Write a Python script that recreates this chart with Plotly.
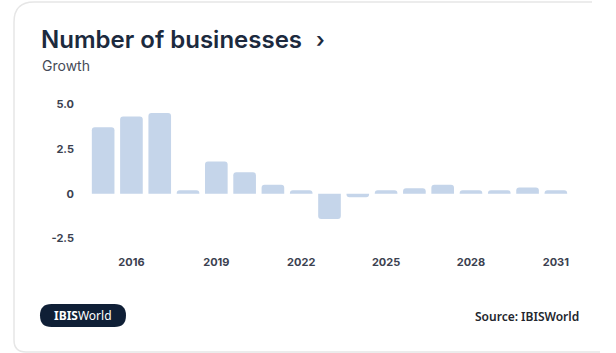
import plotly.graph_objects as go

# ---- data ----
years = list(range(2015, 2032))
growth = [3.7, 4.3, 4.5, 0.2, 1.8, 1.2, 0.5, 0.2, -1.4, -0.2, 0.2, 0.3, 0.5, 0.2, 0.2, 0.35, 0.2]
tick_years = [2016, 2019, 2022, 2025, 2028, 2031]
y_tick_vals = [-2.5, 0, 2.5, 5.0]
y_tick_text = ["-2.5", "0", "2.5", "5.0"]
title_text = "Number of businesses"
subtitle_text = "Growth"
source_text = "Source: IBISWorld"

# ---- layout geometry (pixels) ----
W, H = 616, 353
L, R, T, B = 89, 46, 95, 100
PW, PH = W - L - R, H - T - B


def px(x):
    return (x - L) / PW


def py(y):
    return (H - B - y) / PH


fig = go.Figure()
fig.add_trace(go.Bar(
    x=years, y=growth,
    marker=dict(color="#c5d5ea", cornerradius=3, line=dict(width=0)),
    width=0.8,
    hoverinfo="x+y",
))

tick_font = dict(family="Inter, Lato, sans-serif", size=11, color="#3b4150", weight=700)

fig.update_layout(
    width=W, height=H,
    margin=dict(l=L, r=R, t=T, b=B),
    paper_bgcolor="white", plot_bgcolor="white",
    showlegend=False,
    bargap=0.2,
    xaxis=dict(
        range=[2014.5, 2031.5],
        tickmode="array", tickvals=tick_years, ticktext=[str(y) for y in tick_years],
        showgrid=False, zeroline=False, showline=False, ticks="",
        tickfont=tick_font, ticklabelstandoff=1,
        fixedrange=True,
    ),
    yaxis=dict(
        range=[-3.3, 5.5],
        tickmode="array", tickvals=y_tick_vals, ticktext=y_tick_text,
        showgrid=False, zeroline=False, showline=False, ticks="",
        tickfont=tick_font, ticklabelstandoff=14,
        fixedrange=True,
    ),
)

def rounded_rect(x0, y0, x1, y1, r):
    pts = []
    pts.append(f"M {px(x0 + r)},{py(y0)}")
    pts.append(f"L {px(x1 - r)},{py(y0)}")
    pts.append(f"Q {px(x1)},{py(y0)} {px(x1)},{py(y0 + r)}")
    pts.append(f"L {px(x1)},{py(y1 - r)}")
    pts.append(f"Q {px(x1)},{py(y1)} {px(x1 - r)},{py(y1)}")
    pts.append(f"L {px(x0 + r)},{py(y1)}")
    pts.append(f"Q {px(x0)},{py(y1)} {px(x0)},{py(y1 - r)}")
    pts.append(f"L {px(x0)},{py(y0 + r)}")
    pts.append(f"Q {px(x0)},{py(y0)} {px(x0 + r)},{py(y0)}")
    pts.append("Z")
    return " ".join(pts)

# card border (top + left + bottom-left corner)
card = (f"M {px(592)},{py(2)} L {px(34)},{py(2)} Q {px(14)},{py(2)} {px(14)},{py(22)} "
        f"L {px(14)},{py(340)} Q {px(14)},{py(352)} {px(26)},{py(352)} L {px(600)},{py(352)}")
fig.add_shape(type="path", path=card, xref="paper", yref="paper",
              line=dict(color="#e6e6e6", width=1.5), layer="below")

# IBISWorld logo pill
fig.add_shape(type="path", path=rounded_rect(40, 304, 126, 327, 11.5), xref="paper", yref="paper",
              line=dict(width=0), fillcolor="#0f1f36")

annos = [
    dict(x=px(39), y=py(40), text=title_text, xanchor="left", yanchor="middle",
         font=dict(family="Inter, Roboto, sans-serif", size=24, color="#1c2a3e", weight=600)),
    dict(x=px(314), y=py(39), text="›", xanchor="left", yanchor="middle",
         font=dict(family="Inter, Roboto, sans-serif", size=21, color="#1c2a3e", weight=600)),
    dict(x=px(40), y=py(65), text=subtitle_text, xanchor="left", yanchor="middle",
         font=dict(family="Inter, Roboto, sans-serif", size=14, color="#454b57")),
    dict(x=px(83), y=py(315.5), text="<b>IBIS</b>World", xanchor="center", yanchor="middle",
         font=dict(family="Noto Sans, Open Sans, sans-serif", size=12, color="white")),
    dict(x=px(581), y=py(316), text=source_text, xanchor="right", yanchor="middle",
         font=dict(family="Noto Sans, Open Sans, sans-serif", size=12, color="#23262d", weight=600)),
]
for a in annos:
    fig.add_annotation(xref="paper", yref="paper", showarrow=False, **a)

fig.write_html("out.html")
